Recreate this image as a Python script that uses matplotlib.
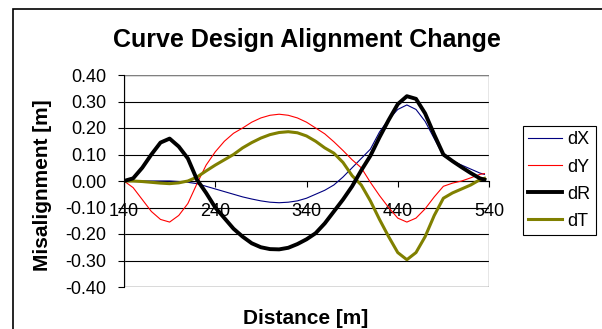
import matplotlib
matplotlib.use("Agg")
import matplotlib.pyplot as plt
from matplotlib.patches import Rectangle

plt.rcParams['font.family'] = ['Liberation Sans', 'DejaVu Sans']

# distance along the curve [m]
distance = [140, 150, 160, 170, 180, 190, 200, 210, 220, 230,
            240, 250, 260, 270, 280, 290, 300, 310, 320, 330,
            340, 350, 360, 370, 380, 390, 400, 410, 420, 430,
            440, 450, 460, 470, 480, 490, 500, 510, 520, 530, 535]

# misalignment components [m]
dX = [0.000, 0.000, 0.000, 0.000, 0.000, 0.000, -0.002, -0.005, -0.010, -0.020,
      -0.030, -0.040, -0.050, -0.060, -0.068, -0.075, -0.080, -0.082, -0.080, -0.075,
      -0.065, -0.050, -0.035, -0.015, 0.015, 0.050, 0.085, 0.120, 0.185, 0.232,
      0.270, 0.287, 0.270, 0.225, 0.160, 0.095, 0.075, 0.060, 0.045, 0.030, 0.025]

dY = [0.000, -0.025, -0.070, -0.115, -0.145, -0.155, -0.130, -0.085, -0.010, 0.060,
      0.110, 0.150, 0.180, 0.200, 0.222, 0.238, 0.248, 0.252, 0.248, 0.238,
      0.222, 0.200, 0.178, 0.148, 0.115, 0.080, 0.050, -0.005, -0.055, -0.100,
      -0.140, -0.155, -0.140, -0.105, -0.060, -0.020, -0.008, 0.000, 0.012, 0.025, 0.028]

dR = [0.000, 0.010, 0.050, 0.100, 0.145, 0.160, 0.130, 0.085, 0.005, -0.045,
      -0.100, -0.140, -0.180, -0.210, -0.235, -0.250, -0.257, -0.258, -0.252, -0.238,
      -0.220, -0.197, -0.160, -0.115, -0.070, -0.020, 0.040, 0.095, 0.165, 0.230,
      0.290, 0.320, 0.310, 0.255, 0.175, 0.100, 0.075, 0.052, 0.030, 0.010, 0.005]

dT = [0.000, 0.000, -0.002, -0.005, -0.008, -0.010, -0.007, 0.000, 0.015, 0.038,
      0.060, 0.080, 0.100, 0.125, 0.145, 0.162, 0.175, 0.183, 0.186, 0.182,
      0.170, 0.150, 0.125, 0.105, 0.070, 0.020, -0.015, -0.075, -0.145, -0.210,
      -0.270, -0.297, -0.270, -0.210, -0.130, -0.065, -0.045, -0.030, -0.015, 0.005, 0.010]

x_ticks = [140, 240, 340, 440, 540]
y_ticks = [-0.4, -0.3, -0.2, -0.1, 0.0, 0.1, 0.2, 0.3, 0.4]

W, H = 602, 329
fig = plt.figure(figsize=(W / 100, H / 100), dpi=100)
ax = fig.add_axes([124 / W, 1 - 287 / H, (489 - 124) / W, (287 - 75) / H])

# chart area frame (only top and left edges show)
fig.patches.append(Rectangle((13 / W, -0.1), 1.2, 1 - 9 / H + 0.1,
                             transform=fig.transFigure, fill=False,
                             edgecolor="black", linewidth=1.2))

ax.plot(distance, dX, color="#000080", linewidth=0.8, label="dX", zorder=3)
ax.plot(distance, dY, color="#ff0000", linewidth=0.8, label="dY", zorder=3)
ax.plot(distance, dR, color="black", linewidth=2.8, label="dR", zorder=4)
ax.plot(distance, dT, color="#808000", linewidth=2.2, label="dT", zorder=3)

ax.set_xlim(140, 540)
ax.set_ylim(-0.4, 0.4)
ax.set_xticks(x_ticks)
ax.set_yticks(y_ticks)
ax.set_yticklabels([f"{v:.2f}" for v in y_ticks])
ax.yaxis.grid(True, color="black", linewidth=0.8)
ax.set_axisbelow(True)

for s in ["top", "right"]:
    ax.spines[s].set_visible(False)
ax.spines["bottom"].set_position(("data", 0))
ax.spines["left"].set_color("black")
ax.add_patch(Rectangle((0, 0), 1, 1, transform=ax.transAxes, fill=False,
                       edgecolor="#808080", linewidth=1.0, zorder=1))

ax.tick_params(axis="both", direction="out", length=4.5, width=0.8,
               labelsize=13, colors="black")
ax.tick_params(axis="y", pad=8)
ax.tick_params(axis="x", pad=11)

fig.text(307 / W, 1 - 40 / H, "Curve Design Alignment Change", ha="center",
         va="center", fontsize=18, fontweight="bold")
fig.text(306 / W, 1 - 319 / H, "Distance [m]", ha="center", va="center",
         fontsize=15, fontweight="bold")
fig.text(43 / W, 1 - 185 / H, "Misalignment [m]", ha="center", va="center",
         rotation=90, fontsize=15, fontweight="bold")

leg = ax.legend(loc="upper left", bbox_to_anchor=(523 / W, 1 - 126 / H),
                bbox_transform=fig.transFigure, fancybox=False,
                edgecolor="black", framealpha=1, fontsize=13,
                borderpad=0.3, labelspacing=0.56, handlelength=1.85,
                handletextpad=0.3, borderaxespad=0)
leg.get_frame().set_linewidth(0.8)

fig.savefig("out.png", dpi=100)
